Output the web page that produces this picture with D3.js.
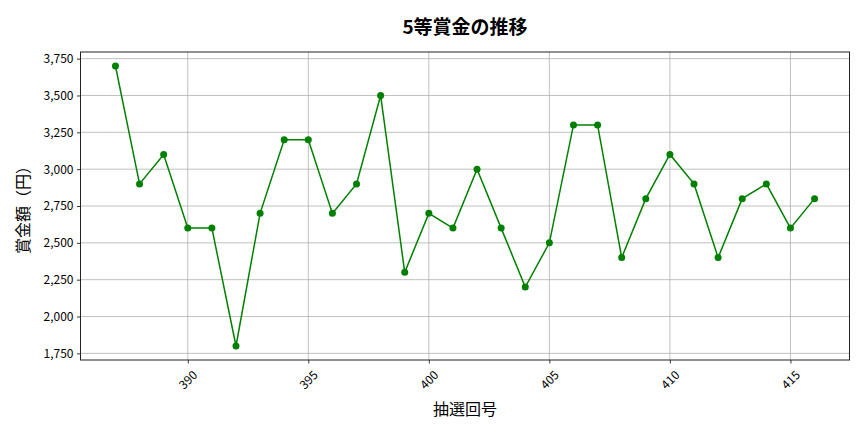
<!DOCTYPE html>
<html>
<head>
<meta charset="utf-8">
<script src="https://cdn.jsdelivr.net/npm/d3@7"></script>
<style>
  body { margin: 0; background: #fff; }
  text { font-family: "Noto Sans CJK JP", "Noto Sans", sans-serif; fill: #000; }
</style>
</head>
<body>
<div id="grafico"></div>
<script>
// 抽選回号と5等賞金
const kaigo = [387, 388, 389, 390, 391, 392, 393, 394, 395, 396,
               397, 398, 399, 400, 401, 402, 403, 404, 405, 406,
               407, 408, 409, 410, 411, 412, 413, 414, 415, 416];
const shokin = [3700, 2900, 3100, 2600, 2600, 1800, 2700, 3200, 3200, 2700,
                2900, 3500, 2300, 2700, 2600, 3000, 2600, 2200, 2500, 3300,
                3300, 2400, 2800, 3100, 2900, 2400, 2800, 2900, 2600, 2800];
const xTicks = [390, 395, 400, 405, 410, 415];
const yTicks = [1750, 2000, 2250, 2500, 2750, 3000, 3250, 3500, 3750];

function criarGrafico() {
    const largura = 864;
    const altura = 432;
    const margem = { top: 52, right: 14.5, bottom: 72, left: 80.5 };
    const w = largura - margem.left - margem.right;
    const h = altura - margem.top - margem.bottom;

    const svg = d3.select("#grafico")
        .append("svg")
        .attr("width", largura)
        .attr("height", altura);

    const g = svg.append("g")
        .attr("transform", `translate(${margem.left},${margem.top})`);

    const dados = kaigo.map((k, i) => ({ k: k, v: shokin[i] }));

    // matplotlib 風の 5% マージン
    const [x0, x1] = d3.extent(kaigo);
    const [y0, y1] = d3.extent(shokin);
    const mx = (x1 - x0) * 0.05, my = (y1 - y0) * 0.05;

    const x = d3.scaleLinear().domain([x0 - mx, x1 + mx]).range([0, w]);
    const y = d3.scaleLinear().domain([y0 - my, y1 + my]).range([h, 0]);

    // グリッド
    g.append("g").selectAll("line").data(xTicks).enter().append("line")
        .attr("x1", d => x(d)).attr("x2", d => x(d))
        .attr("y1", 0).attr("y2", h)
        .attr("stroke", "#b0b0b0").attr("stroke-width", 0.8);
    g.append("g").selectAll("line").data(yTicks).enter().append("line")
        .attr("x1", 0).attr("x2", w)
        .attr("y1", d => y(d)).attr("y2", d => y(d))
        .attr("stroke", "#b0b0b0").attr("stroke-width", 0.8);

    // X 軸
    const eixoX = g.append("g")
        .attr("transform", `translate(0,${h})`)
        .call(d3.axisBottom(x).tickValues(xTicks).tickSize(3.5).tickSizeOuter(0).tickFormat(d3.format("d")));
    eixoX.select(".domain").remove();
    eixoX.selectAll("line").attr("stroke", "#000").attr("stroke-width", 0.8);
    eixoX.selectAll("text")
        .attr("y", 0).attr("dy", null)
        .attr("text-anchor", "middle")
        .attr("dominant-baseline", "central")
        .attr("transform", "translate(-1,19) rotate(-45)")
        .style("font-size", "12px");

    // Y 軸
    const eixoY = g.append("g")
        .call(d3.axisLeft(y).tickValues(yTicks).tickSize(3.5).tickPadding(3.5).tickFormat(d3.format(",")));
    eixoY.select(".domain").remove();
    eixoY.selectAll("line").attr("stroke", "#000").attr("stroke-width", 0.8);
    eixoY.selectAll("text").style("font-size", "12px");

    // 枠
    g.append("rect")
        .attr("width", w).attr("height", h)
        .attr("fill", "none").attr("stroke", "#222").attr("stroke-width", 1);

    // 折れ線
    const linha = d3.line().x(d => x(d.k)).y(d => y(d.v));
    g.append("path")
        .datum(dados)
        .attr("d", linha)
        .attr("fill", "none")
        .attr("stroke", "green")
        .attr("stroke-width", 1.5);

    g.selectAll(".ponto").data(dados).enter().append("circle")
        .attr("class", "ponto")
        .attr("cx", d => x(d.k))
        .attr("cy", d => y(d.v))
        .attr("r", 3.5)
        .attr("fill", "green");

    // タイトル・ラベル
    svg.append("text")
        .attr("x", margem.left + w / 2).attr("y", 25)
        .attr("text-anchor", "middle").attr("dominant-baseline", "central")
        .style("font-size", "19px").style("font-weight", "bold")
        .text("5等賞金の推移");

    svg.append("text")
        .attr("x", margem.left + w / 2).attr("y", 408)
        .attr("text-anchor", "middle").attr("dominant-baseline", "central")
        .style("font-size", "16px")
        .text("抽選回号");

    svg.append("text")
        .attr("transform", `translate(22,${margem.top + h / 2}) rotate(-90)`)
        .attr("text-anchor", "middle").attr("dominant-baseline", "central")
        .style("font-size", "16px")
        .text("賞金額（円）");
}

criarGrafico();
</script>
</body>
</html>
